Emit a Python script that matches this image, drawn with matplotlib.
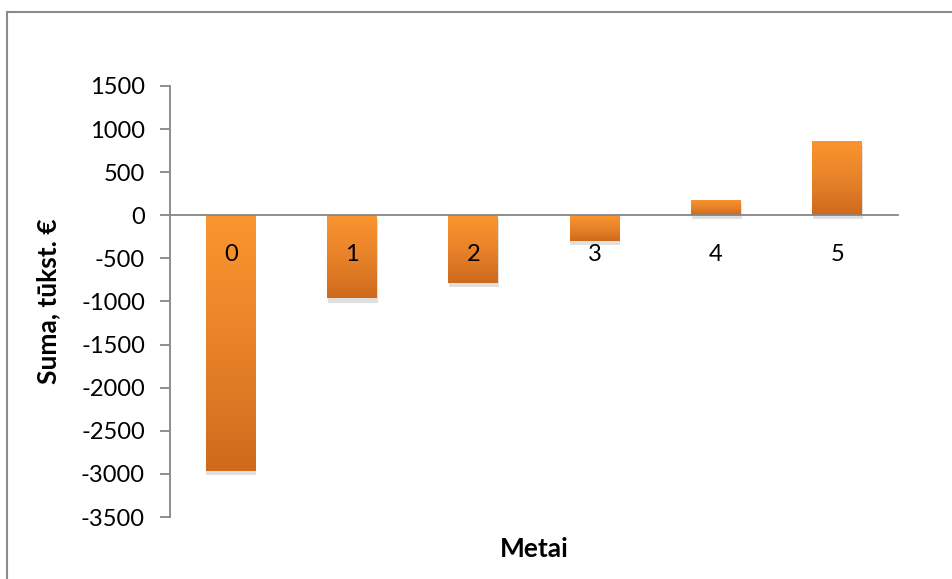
import numpy as np
import matplotlib
matplotlib.use("Agg")
import matplotlib.pyplot as plt
from matplotlib.colors import LinearSegmentedColormap
from matplotlib import patheffects as pe
from matplotlib.lines import Line2D

categories = ["0", "1", "2", "3", "4", "5"]
values = [-2970, -965, -780, -300, 180, 865]
y_ticks = [-3500, -3000, -2500, -2000, -1500, -1000, -500, 0, 500, 1000, 1500]
x_label = "Metai"
y_label = "Suma, tūkst. €"

plt.rcParams['font.family'] = ['Lato', 'DejaVu Sans']

W, H = 953, 579
fig = plt.figure(figsize=(W / 100, H / 100), dpi=100)
ax = fig.add_axes([170 / W, 1 - 517 / H, (898 - 170) / W, (517 - 86) / H])

x = np.arange(len(categories))
bars = ax.bar(x, values, width=0.41, color="#E9822B", zorder=0.5,
              path_effects=[pe.SimplePatchShadow(offset=(0.5, -3), shadow_rgbFace="#999999", alpha=0.3),
                            pe.Normal()])

cmap = LinearSegmentedColormap.from_list("org", ["#FB952F", "#E8832A", "#CF6A1D"])
grad = np.linspace(0, 1, 256).reshape(-1, 1)
for b in bars:
    x0, y0 = b.get_x(), b.get_y()
    w, h = b.get_width(), b.get_height()
    ylo, yhi = min(y0, y0 + h), max(y0, y0 + h)
    im = ax.imshow(grad, cmap=cmap, aspect="auto", origin="upper",
                   extent=(x0, x0 + w, ylo, yhi), zorder=1)
    im.set_clip_path(b)

ax.set_xlim(-0.5, len(categories) - 0.5)
ax.set_ylim(-3500, 1500)
ax.set_yticks(y_ticks)
ax.set_yticklabels([str(t) for t in y_ticks])
ax.set_xticks(x)
ax.set_xticklabels(categories)
ax.xaxis.set_zorder(3)
ax.yaxis.set_zorder(3)

for s in ["top", "right"]:
    ax.spines[s].set_visible(False)
ax.spines["bottom"].set_position(("data", 0))
ax.spines["bottom"].set_color("#868686")
ax.spines["left"].set_color("#868686")
ax.spines["bottom"].set_linewidth(1.3)
ax.spines["left"].set_linewidth(1.3)
ax.spines["bottom"].set_zorder(4)

ax.tick_params(axis="y", direction="out", length=7, width=1.3, color="#868686",
               labelsize=17, pad=11)
ax.tick_params(axis="x", length=0, labelsize=17, pad=21)

ax.set_ylabel(y_label, fontsize=19, fontweight="bold")
ax.yaxis.set_label_coords(-0.151, 0.5)
ax.set_xlabel(x_label, fontsize=19, fontweight="bold")
ax.xaxis.set_label_coords(0.5, -0.046)

# chart border (left and top visible)
fig.add_artist(Line2D([7.5 / W, 7.5 / W], [0, 1 - 12 / H], transform=fig.transFigure,
                      color="#8C8C8C", lw=1.5))
fig.add_artist(Line2D([7.5 / W, 1], [1 - 12 / H, 1 - 12 / H], transform=fig.transFigure,
                      color="#8C8C8C", lw=1.5))

fig.savefig("out.png", dpi=100)
